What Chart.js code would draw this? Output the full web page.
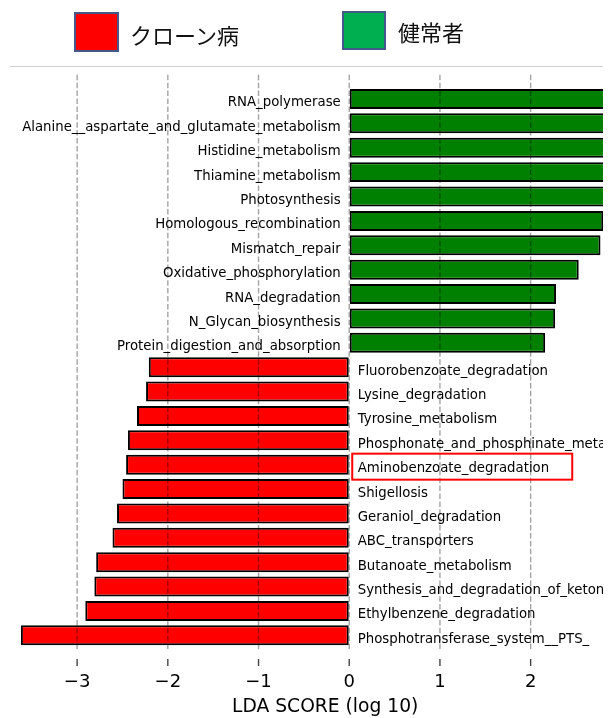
<!DOCTYPE html>
<html>
<head>
<meta charset="utf-8">
<script src="https://cdn.jsdelivr.net/npm/chart.js@4/dist/chart.umd.min.js"></script>
<style>
  html, body { margin: 0; padding: 0; background: #fff; overflow: hidden; }
  #wrap { position: relative; width: 603px; height: 718px; overflow: hidden; }
  #wrap canvas { position: absolute; left: 0; top: 0; }
  .key { position: absolute; box-sizing: border-box; border: 2px solid #44598a; }
  .keytext { position: absolute; font-family: "Noto Sans CJK JP", sans-serif; font-size: 22px;
             line-height: 22px; color: #111; white-space: nowrap; }
</style>
</head>
<body>
<div id="wrap">
  <canvas id="lda" width="650" height="718"></canvas>
  <div class="key" style="left:74px; top:12px; width:45px; height:40px; background:#ff0000;"></div>
  <div class="keytext" id="name0" style="left:130px; top:23px;"></div>
  <div class="key" style="left:342px; top:11px; width:44px; height:39px; background:#00b050;"></div>
  <div class="keytext" id="name1" style="left:398px; top:20px;"></div>
</div>
<script>
// Groups compared (LEfSe classes)
const classNames = ['クローン病', '健常者'];

// Pathways enriched in healthy subjects, largest LDA score first
const healthyPathways = [
  'RNA_polymerase',
  'Alanine__aspartate_and_glutamate_metabolism',
  'Histidine_metabolism',
  'Thiamine_metabolism',
  'Photosynthesis',
  'Homologous_recombination',
  'Mismatch_repair',
  'Oxidative_phosphorylation',
  'RNA_degradation',
  'N_Glycan_biosynthesis',
  'Protein_digestion_and_absorption'
];
const healthyScores = [3.62, 3.45, 3.30, 3.12, 2.95, 2.80, 2.77, 2.53, 2.28, 2.27, 2.16];

// Pathways enriched in Crohn's disease, smallest LDA score first
const crohnPathways = [
  'Fluorobenzoate_degradation',
  'Lysine_degradation',
  'Tyrosine_metabolism',
  'Phosphonate_and_phosphinate_metabolism',
  'Aminobenzoate_degradation',
  'Shigellosis',
  'Geraniol_degradation',
  'ABC_transporters',
  'Butanoate_metabolism',
  'Synthesis_and_degradation_of_ketone_bodies',
  'Ethylbenzene_degradation',
  'Phosphotransferase_system__PTS_'
];
const crohnScores = [2.21, 2.24, 2.34, 2.44, 2.46, 2.50, 2.56, 2.61, 2.79, 2.81, 2.91, 3.62];

// Labels boxed in red
const highlighted = ['Aminobenzoate_degradation'];

// Crohn's scores are plotted on the negative side
const categories = healthyPathways.concat(crohnPathways);
const scores = healthyScores.concat(crohnScores.map(v => -v));
const barColors = scores.map(v => v > 0 ? '#008000' : '#ff0000');

document.getElementById('name0').textContent = classNames[0];
document.getElementById('name1').textContent = classNames[1];

const overlay = {
  id: 'overlay',
  afterDatasetsDraw(chart) {
    const { ctx, chartArea, scales: { x, y } } = chart;
    const x0 = x.getPixelForValue(0);
    ctx.save();

    // thin rule above the plot
    ctx.strokeStyle = '#cfcfcf';
    ctx.lineWidth = 1;
    ctx.beginPath();
    ctx.moveTo(chartArea.left, 66.5);
    ctx.lineTo(chartArea.right, 66.5);
    ctx.stroke();

    // dashed grid drawn over the bars
    ctx.strokeStyle = 'rgba(0,0,0,0.36)';
    ctx.lineWidth = 1.4;
    ctx.setLineDash([5.5, 2.4]);
    x.ticks.forEach(t => {
      const px = x.getPixelForValue(t.value);
      ctx.beginPath();
      ctx.moveTo(px, chartArea.top - 12);
      ctx.lineTo(px, chartArea.bottom + 3);
      ctx.stroke();
    });

    // tick marks
    ctx.setLineDash([]);
    ctx.strokeStyle = '#444';
    ctx.lineWidth = 1.4;
    x.ticks.forEach(t => {
      const px = x.getPixelForValue(t.value);
      ctx.beginPath();
      ctx.moveTo(px, chartArea.bottom + 11.5);
      ctx.lineTo(px, chartArea.bottom + 18.5);
      ctx.stroke();
    });

    // pathway names beside the zero line
    ctx.font = '13.3px "DejaVu Sans"';
    ctx.fillStyle = '#000';
    ctx.textBaseline = 'alphabetic';
    categories.forEach((name, i) => {
      const cy = y.getPixelForValue(i);
      if (scores[i] > 0) {
        ctx.textAlign = 'right';
        ctx.fillText(name, x0 - 8.5, cy + 7.5);
      } else {
        ctx.textAlign = 'left';
        ctx.fillText(name, x0 + 8.5, cy + 7.5);
      }
      if (highlighted.includes(name)) {
        ctx.strokeStyle = '#ff0000';
        ctx.lineWidth = 2;
        ctx.strokeRect(x0 + 3, cy - 11, 220, 26);
      }
    });
    ctx.restore();
  }
};

new Chart(document.getElementById('lda'), {
  type: 'bar',
  data: {
    labels: categories,
    datasets: [{
      data: scores,
      backgroundColor: barColors,
      borderColor: '#000',
      borderWidth: 2,
      borderSkipped: false,
      barPercentage: 0.82,
      categoryPercentage: 1.0
    }]
  },
  options: {
    indexAxis: 'y',
    responsive: false,
    animation: false,
    layout: { padding: { left: 10, right: 9.6, top: 86.8, bottom: 0 } },
    plugins: { legend: { display: false }, tooltip: { enabled: false } },
    scales: {
      y: { display: false },
      x: {
        min: -3.74,
        max: 3.21,
        border: { display: false },
        grid: { display: true, drawOnChartArea: false, drawTicks: true, tickLength: 10, color: 'rgba(0,0,0,0)' },
        afterFit: scale => { scale.height = 70.5; },
        ticks: {
          stepSize: 1,
          includeBounds: false,
          padding: 14.5,
          color: '#000',
          font: { family: 'DejaVu Sans', size: 18 },
          callback: v => String(v).replace('-', '\u2212')
        },
        title: {
          display: true,
          text: 'LDA SCORE (log 10)',
          color: '#000',
          font: { family: 'DejaVu Sans', size: 18.7 },
          padding: { top: 0, bottom: 0 }
        }
      }
    }
  },
  plugins: [overlay]
});
</script>
</body>
</html>
